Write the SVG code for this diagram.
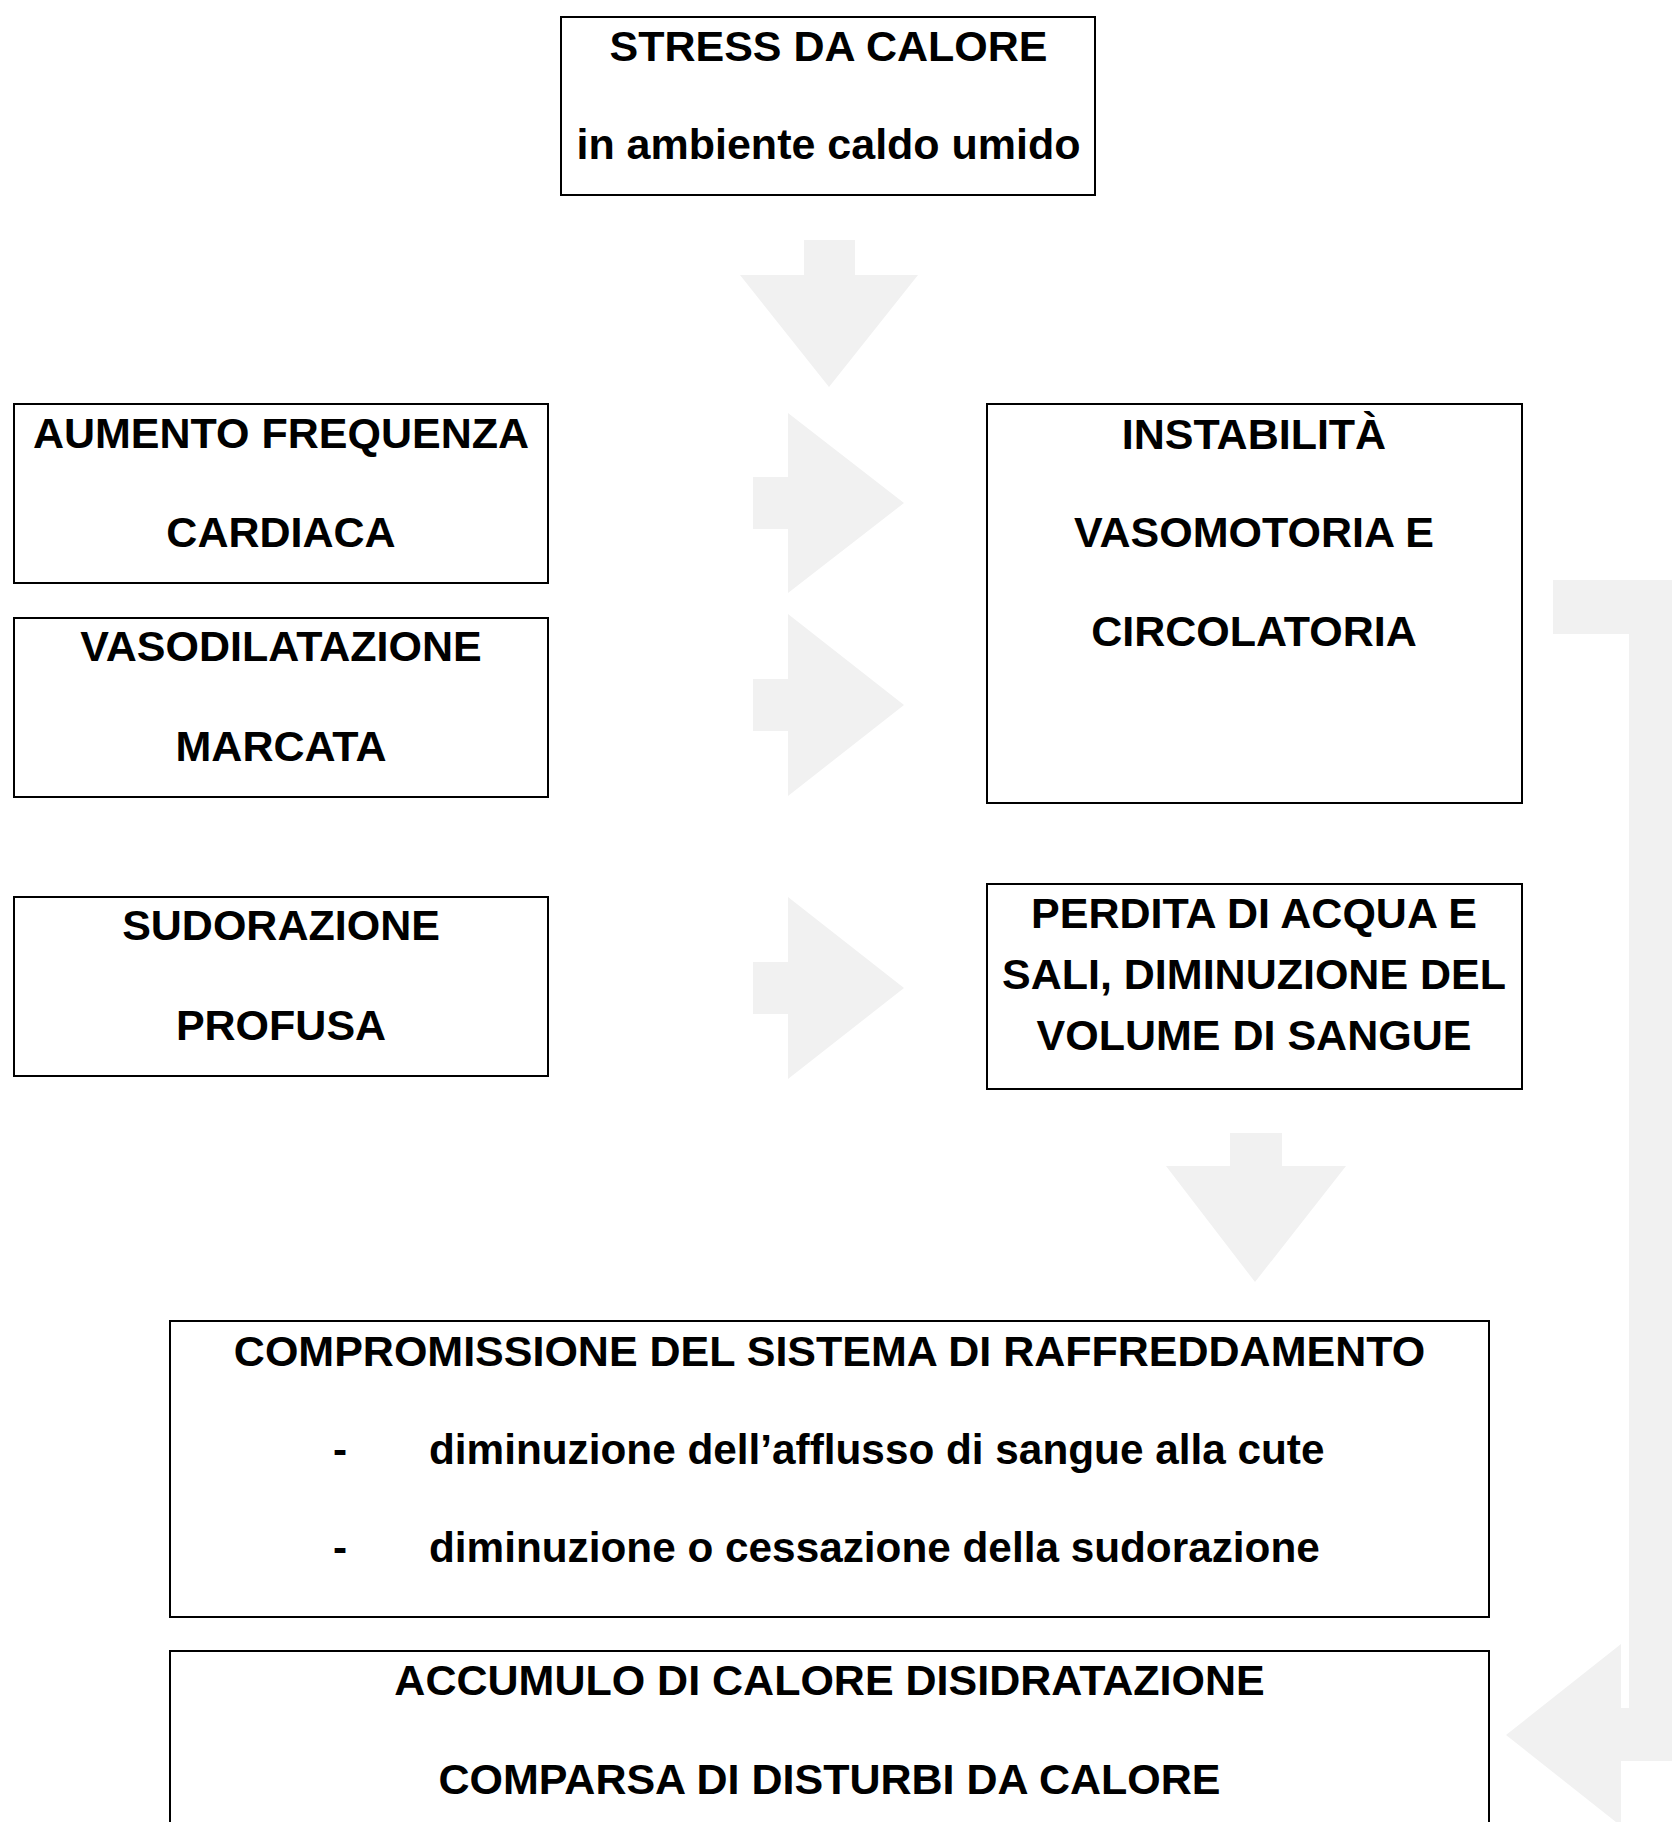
<svg xmlns="http://www.w3.org/2000/svg" width="1672" height="1822" viewBox="0 0 1672 1822">
<style>
.box{fill:#fff;stroke:#000;stroke-width:2}
.t{font-family:"Liberation Sans",Arial,Helvetica,sans-serif;font-weight:bold;font-size:43px;fill:#000;text-anchor:middle}
.s{text-anchor:start;font-size:42.3px}
.arr{fill:#f1f1f1;stroke:none}
</style>
<rect width="1672" height="1822" fill="#fff"/>
<g id="connectors">
<polygon class="arr" points="804,240 855,240 855,275 918,275 829,387 740,275 804,275"/>
<polygon class="arr" points="753,477 788,477 788,413 904,503 788,593 788,529 753,529"/>
<polygon class="arr" points="753,679 788,679 788,614 904,705 788,796 788,731 753,731"/>
<polygon class="arr" points="753,962 788,962 788,897 904,988 788,1079 788,1014 753,1014"/>
<polygon class="arr" points="1230,1133 1282,1133 1282,1166 1346,1166 1255,1282 1166,1166 1230,1166"/>
<polygon class="arr" points="1553,580 1684,580 1684,1761 1621,1761 1621,1826 1506,1735 1621,1644 1621,1708 1629,1708 1629,634 1553,634"/>
</g>
<g id="n-stress">
<rect class="box" x="561" y="17" width="534" height="178"/>
<text class="t" x="828.5" y="61">STRESS DA CALORE</text>
<text class="t" x="828.5" y="159">in ambiente caldo umido</text>
</g>
<g id="n-aumento">
<rect class="box" x="14" y="404" width="534" height="179"/>
<text class="t" x="281" y="448">AUMENTO FREQUENZA</text>
<text class="t" x="281" y="547">CARDIACA</text>
</g>
<g id="n-vasodilatazione">
<rect class="box" x="14" y="618" width="534" height="179"/>
<text class="t" x="281" y="661">VASODILATAZIONE</text>
<text class="t" x="281" y="761">MARCATA</text>
</g>
<g id="n-sudorazione">
<rect class="box" x="14" y="897" width="534" height="179"/>
<text class="t" x="281" y="940">SUDORAZIONE</text>
<text class="t" x="281" y="1040">PROFUSA</text>
</g>
<g id="n-instabilita">
<rect class="box" x="987" y="404" width="535" height="399"/>
<text class="t" x="1254" y="449">INSTABILITÀ</text>
<text class="t" x="1254" y="547">VASOMOTORIA E</text>
<text class="t" x="1254" y="646">CIRCOLATORIA</text>
</g>
<g id="n-perdita">
<rect class="box" x="987" y="884" width="535" height="205"/>
<text class="t" x="1254" y="928">PERDITA DI ACQUA E</text>
<text class="t" x="1254" y="989">SALI, DIMINUZIONE DEL</text>
<text class="t" x="1254" y="1050">VOLUME DI SANGUE</text>
</g>
<g id="n-compromissione">
<rect class="box" x="170" y="1321" width="1319" height="296"/>
<text class="t" x="829.5" y="1366">COMPROMISSIONE DEL SISTEMA DI RAFFREDDAMENTO</text>
<text class="t s" x="333" y="1464">-</text>
<text class="t s" x="429" y="1464">diminuzione dell’afflusso di sangue alla cute</text>
<text class="t s" x="333" y="1562">-</text>
<text class="t s" x="429" y="1562">diminuzione o cessazione della sudorazione</text>
</g>
<g id="n-accumulo">
<rect class="box" x="170" y="1651" width="1319" height="200"/>
<text class="t" x="829.5" y="1695">ACCUMULO DI CALORE DISIDRATAZIONE</text>
<text class="t" x="829.5" y="1794">COMPARSA DI DISTURBI DA CALORE</text>
</g>
</svg>
